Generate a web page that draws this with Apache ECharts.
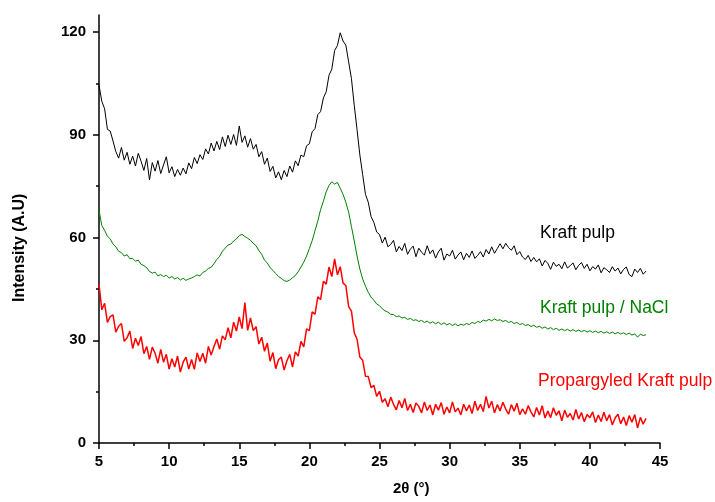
<!DOCTYPE html>
<html>
<head>
<meta charset="utf-8">
<title>XRD</title>
<script src="https://cdn.jsdelivr.net/npm/echarts@6/dist/echarts.min.js"></script>
<style>
  html, body { margin: 0; padding: 0; background: #fff; }
  #chart { width: 715px; height: 502px; }
</style>
</head>
<body>
<div id="chart"></div>
<script>
  // scan starts at 5 deg, one reading every 0.2 deg
  var startAngle = 5;
  var stepAngle = 0.2;

  var kraftPulp = [
    104.5, 99.8, 97.6, 91.6, 91.1, 88.2, 85.1, 83.2, 86.3, 82.6,
    84.9, 81.4, 83.8, 80.9, 84.6, 82.3, 79.6, 83.1, 76.8, 81.9,
    79.4, 82.5, 78.7, 81.2, 83.6, 78.9, 80.7, 77.8, 79.9, 78.2,
    80.3, 78.6, 81.8, 80.1, 83.4, 81.6, 84.2, 82.8, 85.9, 84.4,
    87.6, 85.3, 88.1, 85.7, 89.4, 86.6, 89.9, 87.2, 90.1, 86.9,
    92.6, 87.8, 89.7, 86.4, 88.9, 85.8, 87.2, 83.6, 85.1, 81.4,
    83.2, 79.3, 80.8, 77.4, 79.2, 76.9, 79.6, 77.8, 80.9, 79.1,
    82.4, 81.0, 84.1, 83.6, 86.8, 87.4, 90.9, 91.8, 95.9, 96.8,
    100.8, 102.6, 107.4, 109.2, 114.6, 116.1, 119.8, 117.4, 116.2, 111.3,
    106.4, 98.6, 91.5, 84.1, 78.4, 72.6, 70.3, 66.1, 64.4, 61.6,
    60.9, 58.4, 60.1, 57.3, 58.0, 59.2, 55.8, 57.4, 56.2, 58.3,
    55.1, 56.6, 57.5, 54.4, 56.9, 55.7, 54.9, 57.6, 55.3, 56.4,
    54.0, 55.8, 56.9, 53.4, 55.2, 54.6, 56.3, 53.7, 54.9, 55.8,
    53.5, 55.4, 54.2, 56.1, 53.9, 54.8, 55.9, 54.3, 56.5, 55.2,
    57.3, 55.4, 56.8, 58.2, 56.7, 58.3, 57.1, 56.3, 57.6, 55.0,
    55.9, 54.3, 53.6, 54.8, 53.0, 54.2, 52.9, 53.8, 51.7, 53.3,
    52.5, 50.7, 52.8, 51.6, 52.2, 50.9, 52.9, 51.1, 51.8, 52.6,
    50.6, 51.9, 52.7, 51.0, 52.2, 50.3, 51.5, 50.8, 52.0, 49.7,
    51.2, 50.6, 49.8, 51.5, 50.2, 51.1, 49.4, 50.7, 51.4, 49.2,
    48.6, 50.8, 49.8, 51.0, 49.3, 50.2
  ];

  var kraftPulpNaCl = [
    68.0, 63.5, 62.1, 60.4, 59.6, 58.1, 57.3, 56.0, 55.6, 54.6,
    55.0, 53.8, 53.9, 53.1, 53.4, 52.2, 51.8, 51.2, 50.1, 49.6,
    49.9, 48.8, 49.2, 48.6, 49.0, 48.2, 48.6, 47.9, 48.3, 47.6,
    48.1, 47.5, 47.9, 48.2, 48.6, 49.1, 48.8, 49.8, 50.2, 51.0,
    51.3, 52.4, 53.6, 54.5, 56.0, 56.9, 57.8, 58.1, 59.0, 59.6,
    60.6, 60.9, 60.3, 59.8, 59.2, 58.3, 57.6, 56.2, 55.1, 53.4,
    52.6, 51.2, 50.4, 49.5, 48.6, 48.1, 47.4, 47.2, 47.6, 48.3,
    48.9, 50.0, 51.4, 52.8, 54.6, 56.8, 59.1, 62.0, 64.8, 68.2,
    70.6, 73.4, 75.2, 76.3, 75.6, 76.1, 74.4, 72.6, 70.3, 67.4,
    63.2, 59.0, 54.6, 50.8, 47.9, 45.8, 44.0, 42.6, 41.7, 40.6,
    40.1, 39.2, 38.6, 38.2, 37.6, 37.5, 36.9, 37.1, 36.5, 36.7,
    36.1, 36.4, 35.8, 36.0, 35.5, 35.8, 35.2, 35.6, 35.0, 35.4,
    34.8, 35.3, 34.6, 35.1, 34.5, 34.9, 34.3, 34.8, 34.2, 34.7,
    34.4, 34.9, 34.6, 35.2, 34.9, 35.5, 35.2, 35.9, 35.6, 36.1,
    35.7, 36.2, 35.8, 36.0, 35.5, 35.8, 35.2, 35.5, 34.9, 35.2,
    34.6, 34.9, 34.3, 34.6, 34.0, 34.4, 33.8, 34.1, 33.5, 33.9,
    33.3, 33.7, 33.1, 33.5, 32.9, 33.3, 32.8, 33.2, 32.7, 33.1,
    32.6, 33.0, 32.5, 32.9, 32.4, 32.8, 32.3, 32.7, 32.2, 32.6,
    32.1, 32.5, 32.0, 32.4, 31.9, 32.3, 31.8, 32.2, 31.7, 32.1,
    31.5, 31.9, 30.9, 31.8, 31.4, 31.6
  ];

  var propargyledPulp = [
    46.5, 38.9, 40.8, 35.2, 36.9, 37.4, 32.4, 34.1, 34.9, 29.7,
    30.7, 32.7, 27.6, 30.6, 28.5, 31.1, 26.1, 28.2, 24.4, 28.0,
    26.2, 23.3, 27.3, 23.6, 25.9, 21.6, 24.6, 22.2, 25.4, 20.7,
    23.6, 25.1, 21.6, 24.4, 21.5, 26.3, 23.8, 26.2, 23.3, 28.2,
    25.7, 28.2, 30.4, 27.4, 31.3, 30.1, 33.7, 30.7, 35.3, 32.7,
    36.8, 33.4, 41.0, 32.9, 36.5, 32.8, 34.0, 28.9, 30.9, 26.8,
    29.2, 23.9, 26.4, 21.7, 24.3, 25.1, 21.3, 24.0, 25.9, 22.2,
    26.6, 25.4, 29.7, 28.1, 33.3, 32.8, 38.3, 37.6, 42.7, 41.9,
    47.2, 46.4, 51.4, 48.6, 53.8, 49.1, 51.5, 46.7, 46.0, 39.8,
    38.5, 32.2, 30.3, 25.1, 24.2, 19.5, 19.4, 16.2, 16.8, 13.6,
    15.1, 11.9, 12.9, 10.6, 13.4, 11.3, 9.7, 12.4, 10.3, 13.0,
    9.5, 11.3, 8.9, 11.7, 10.7, 8.8, 12.0, 9.5, 11.1, 8.2,
    11.3, 9.6, 11.8, 8.4, 10.5, 8.8, 12.0, 9.1, 10.2, 8.2,
    11.3, 9.4, 11.1, 8.6, 12.2, 9.5, 11.3, 9.2, 13.6, 10.2,
    12.2, 8.8, 11.2, 9.4, 11.9, 9.9, 8.4, 11.2, 9.3, 11.6,
    8.3, 10.0, 8.4, 10.9, 9.1, 7.6, 10.4, 8.2, 10.9, 7.3,
    9.3, 7.4, 10.3, 8.1, 9.4, 6.5, 9.6, 7.5, 8.6, 6.7,
    9.8, 7.0, 8.9, 6.2, 8.3, 7.4, 9.1, 6.0, 8.2, 6.3,
    9.0, 6.5, 8.3, 5.3, 7.3, 8.4, 5.6, 7.6, 5.1, 8.0,
    6.1, 8.3, 4.4, 7.5, 5.5, 7.2
  ];

  var yLabelTicks = [0, 30, 60, 90, 120];
  var yMinorTicks = [15, 45, 75, 105];

  function toPairs(values) {
    return values.map(function (v, i) {
      return [+(startAngle + i * stepAngle).toFixed(2), v];
    });
  }

  var fontFamily = '"Liberation Sans", Arial, sans-serif';
  var axisText = {
    color: '#000',
    fontSize: 15,
    fontWeight: 'bold',
    fontFamily: fontFamily
  };
  var axisLine = {
    show: true,
    lineStyle: { color: '#000', width: 1.5 }
  };

  var chart = echarts.init(document.getElementById('chart'));

  chart.setOption({
    animation: false,
    backgroundColor: '#fff',
    grid: {
      left: 99,
      right: 55,
      top: 15,
      bottom: 59
    },
    xAxis: {
      type: 'value',
      min: 5,
      max: 45,
      interval: 5,
      axisLine: axisLine,
      axisTick: {
        show: true,
        length: 6,
        lineStyle: { color: '#000', width: 1.5 }
      },
      minorTick: {
        show: true,
        splitNumber: 2,
        length: 3,
        lineStyle: { color: '#000', width: 1.5 }
      },
      axisLabel: Object.assign({ margin: 11 }, axisText),
      splitLine: { show: false }
    },
    yAxis: [{
      type: 'value',
      min: 0,
      max: 125,
      axisLine: axisLine,
      axisTick: {
        show: true,
        length: 6,
        customValues: yLabelTicks,
        lineStyle: { color: '#000', width: 1.5 }
      },
      axisLabel: Object.assign({ margin: 13, customValues: yLabelTicks }, axisText),
      splitLine: { show: false }
    }, {
      type: 'value',
      min: 0,
      max: 125,
      position: 'left',
      axisLine: { show: false },
      axisTick: {
        show: true,
        length: 3,
        customValues: yMinorTicks,
        lineStyle: { color: '#000', width: 1.5 }
      },
      axisLabel: { show: false },
      splitLine: { show: false }
    }],
    graphic: [{
      type: 'text',
      left: 393,
      top: 481,
      style: Object.assign({ text: '2θ (°)' }, axisText)
    }, {
      type: 'text',
      x: 12,
      y: 302,
      rotation: Math.PI / 2,
      style: Object.assign({ text: 'Intensity (A.U)' }, axisText, { fontSize: 16 })
    }, {
      type: 'text',
      left: 540,
      top: 224,
      style: { text: 'Kraft pulp', fill: '#000', fontSize: 17.5, fontFamily: fontFamily }
    }, {
      type: 'text',
      left: 540,
      top: 299,
      style: { text: 'Kraft pulp / NaCl', fill: '#008000', fontSize: 17.5, fontFamily: fontFamily }
    }, {
      type: 'text',
      left: 538,
      top: 372,
      style: { text: 'Propargyled Kraft pulp', fill: '#ff0000', fontSize: 17.5, fontFamily: fontFamily }
    }],
    series: [{
      name: 'Kraft pulp',
      type: 'line',
      showSymbol: false,
      data: toPairs(kraftPulp),
      lineStyle: { color: '#000', width: 1 }
    }, {
      name: 'Kraft pulp / NaCl',
      type: 'line',
      showSymbol: false,
      data: toPairs(kraftPulpNaCl),
      lineStyle: { color: '#008000', width: 1 }
    }, {
      name: 'Propargyled Kraft pulp',
      type: 'line',
      showSymbol: false,
      data: toPairs(propargyledPulp),
      lineStyle: { color: '#ff0000', width: 1.5 }
    }]
  });
</script>
</body>
</html>
